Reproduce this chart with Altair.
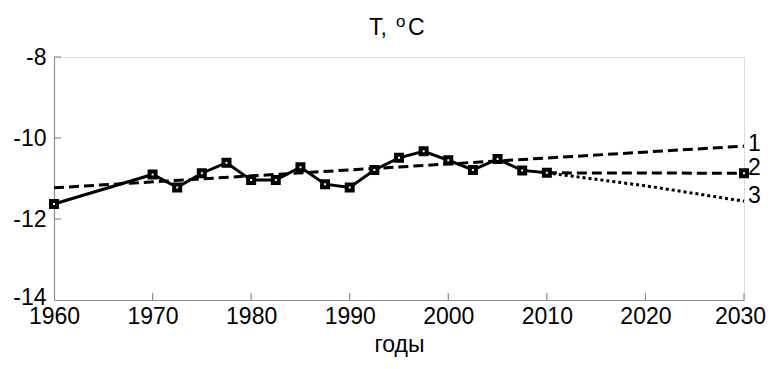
import altair as alt
import pandas as pd

# observed series (solid line with square markers)
obs_years = [1960, 1970, 1972.5, 1975, 1977.5, 1980, 1982.5, 1985, 1987.5, 1990,
             1992.5, 1995, 1997.5, 2000, 2002.5, 2005, 2007.5, 2010]
obs_temps = [-11.63, -10.90, -11.22, -10.87, -10.61, -11.04, -11.04, -10.72, -11.14, -11.22,
             -10.79, -10.49, -10.33, -10.55, -10.79, -10.52, -10.80, -10.86]

# scenario 1 (dashed trend)
s1_years = [1960, 2030]
s1_temps = [-11.23, -10.20]
# scenario 2 (dashed)
s2_years = [2010, 2030]
s2_temps = [-10.86, -10.87]
# scenario 3 (dotted)
s3_years = [2010, 2020, 2030]
s3_temps = [-10.86, -11.18, -11.56]

# curve labels
lab_text = ["1", "2", "3"]
lab_years = [2030, 2030, 2030]
lab_temps = [-10.15, -10.73, -11.43]

x_ticks = [1960, 1970, 1980, 1990, 2000, 2010, 2020, 2030]
y_ticks = [-8, -10, -12, -14]

# title pieces: "T, " + superscript "o" + "C"
title_main = "T,"
title_sup = "o"
title_unit = "C"

FONT = "Liberation Sans"
AX = "#8c8c8c"
FS = 23
W, H = 690, 243

obs = pd.DataFrame({"year": obs_years, "t": obs_temps})
s1 = pd.DataFrame({"year": s1_years, "t": s1_temps})
s2 = pd.DataFrame({"year": s2_years, "t": s2_temps})
s3 = pd.DataFrame({"year": s3_years, "t": s3_temps})
labs = pd.DataFrame({"year": lab_years, "t": lab_temps, "txt": lab_text})
xt = pd.DataFrame({"year": x_ticks[1:]})
yt = pd.DataFrame({"t": y_ticks[:-1]})
tt = pd.DataFrame({"a": [title_main], "b": [title_sup], "c": [title_unit]})

xs = alt.Scale(domain=[1960, 2030], nice=False, zero=False)
ys = alt.Scale(domain=[-14, -8], nice=False, zero=False)

x_enc = alt.X("year:Q", scale=xs, title="годы",
              axis=alt.Axis(values=x_ticks, labelExpr="toString(datum.value)", ticks=False,
                            grid=False, domainColor=AX, domainWidth=1.2, labelFont=FONT,
                            labelFontSize=FS, labelColor="black", labelPadding=5,
                            labelOffset=alt.condition("datum.value == 2030", alt.value(-4), alt.value(0)),
                            titleFont=FONT, titleFontSize=FS, titleFontWeight="normal",
                            titleColor="black", titlePadding=5, labelFlush=False))
y_enc = alt.Y("t:Q", scale=ys, title=None,
              axis=alt.Axis(values=y_ticks, labelExpr="toString(datum.value)", ticks=False,
                            grid=False, domainColor=AX, domainWidth=1.2, labelFont=FONT,
                            labelFontSize=FS, labelColor="black", labelPadding=8,
                            labelOffset=alt.condition("datum.value == -14", alt.value(-3), alt.value(0)),
                            labelFlush=False))

base_obs = alt.Chart(obs)
line_obs = base_obs.mark_line(color="black", strokeWidth=3).encode(x=x_enc, y=y_enc)
pts_obs = base_obs.mark_point(shape="square", size=36, filled=True, fill="white",
                              stroke="black", strokeWidth=4, opacity=1).encode(x="year:Q", y="t:Q")

line1 = alt.Chart(s1).mark_line(color="black", strokeWidth=3, strokeDash=[10, 5]).encode(x="year:Q", y="t:Q")
line2 = alt.Chart(s2).mark_line(color="black", strokeWidth=3, strokeDash=[10, 5]).encode(x="year:Q", y="t:Q")
line3 = alt.Chart(s3).mark_line(color="black", strokeWidth=3, strokeDash=[3, 3]).encode(x="year:Q", y="t:Q")
end2 = alt.Chart(s2.tail(1)).mark_point(shape="square", size=36, filled=True, fill="white",
                                        stroke="black", strokeWidth=4, opacity=1).encode(x="year:Q", y="t:Q")

labels = alt.Chart(labs).mark_text(font=FONT, fontSize=FS, align="left", dx=4,
                                   baseline="middle", color="black").encode(
    x="year:Q", y="t:Q", text="txt:N")

xtick = alt.Chart(xt).mark_rule(color=AX, strokeWidth=1.2).encode(
    x="year:Q", y=alt.value(H), y2=alt.value(H - 7))
ytick = alt.Chart(yt).mark_rule(color=AX, strokeWidth=1.2).encode(
    y="t:Q", x=alt.value(0), x2=alt.value(7))

t_base = alt.Chart(tt)
t_a = t_base.mark_text(font=FONT, fontSize=FS, align="right", baseline="alphabetic",
                       color="black").encode(text="a:N", x=alt.value(333), y=alt.value(-22))
t_b = t_base.mark_text(font=FONT, fontSize=17, align="left", baseline="alphabetic",
                       color="black").encode(text="b:N", x=alt.value(342), y=alt.value(-30))
t_c = t_base.mark_text(font=FONT, fontSize=FS, align="left", baseline="alphabetic",
                       color="black").encode(text="c:N", x=alt.value(354), y=alt.value(-22))

chart = alt.layer(xtick, ytick, line1, line2, line3, line_obs, pts_obs, end2, labels,
                  t_a, t_b, t_c).properties(
    width=W, height=H,
    padding={"left": 46, "top": 49, "right": 22, "bottom": 60},
    autosize=alt.AutoSizeParams(type="none"),
).configure_view(stroke=None).configure(background="white")

chart.save("out.html", embed_options={"renderer": "svg", "actions": False})
